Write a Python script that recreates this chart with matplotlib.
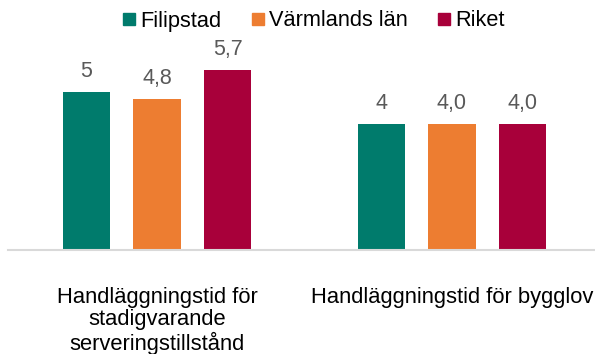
import matplotlib.pyplot as plt
from matplotlib.lines import Line2D
import numpy as np

plt.rcParams['font.family'] = ['Liberation Sans', 'DejaVu Sans']

categories = ["Handläggningstid för\nstadigvarande\nserveringstillstånd",
              "Handläggningstid för bygglov"]
series = ["Filipstad", "Värmlands län", "Riket"]
filipstad = [5, 4]
varmland = [4.8, 4.0]
riket = [5.7, 4.0]
decimals = [0, 1, 1]
colors = ["#007B6C", "#ED7D31", "#A8003A"]

values = [filipstad, varmland, riket]

fig = plt.figure(figsize=(5.95, 3.54), dpi=100)
ax = fig.add_axes([8 / 595, 104 / 354, 587 / 595, 220 / 354])

x = np.arange(len(categories))
width = 0.16
offsets = [-0.24, 0.0, 0.24]

for vals, name, col, off, dec in zip(values, series, colors, offsets, decimals):
    bars = ax.bar(x + off, vals, width, color=col, label=name, zorder=2)
    for b, v in zip(bars, vals):
        txt = f"{v:.{dec}f}".replace(".", ",")
        ax.annotate(txt, (b.get_x() + b.get_width() / 2, v),
                    xytext=(0, 10.8), textcoords="offset points",
                    ha="center", va="baseline", fontsize=15.5, color="#595959")

ax.set_xlim(-0.505, 1.485)
ax.set_ylim(0, 6.98)
ax.set_yticks([])
for s in ["top", "right", "left"]:
    ax.spines[s].set_visible(False)
ax.spines["bottom"].set_color("#D9D9D9")
ax.spines["bottom"].set_linewidth(1.5)
ax.set_xticks(x)
ax.set_xticklabels(categories, fontsize=15.8, color="#000000", linespacing=1.08)
ax.tick_params(axis="x", length=0, pad=26.5)

handles = [Line2D([], [], marker="s", linestyle="none", markersize=9.2,
                  markerfacecolor=c, markeredgecolor=c) for c in colors]
fig.legend(handles, series, loc="center", bbox_to_anchor=(0.527, 1 - 21 / 354),
           ncol=3, frameon=False, fontsize=15.7, handlelength=0.6,
           handletextpad=0.18, columnspacing=1.4, borderpad=0)

fig.savefig("out.png", dpi=100)
